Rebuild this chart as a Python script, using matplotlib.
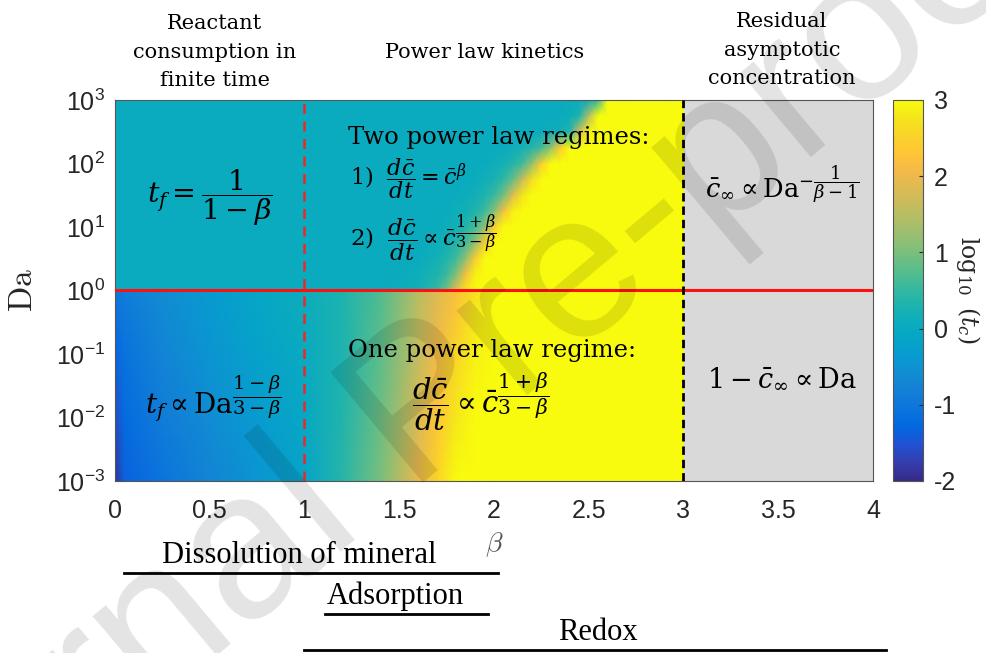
import numpy as np
import matplotlib
matplotlib.use('Agg')
import matplotlib.pyplot as plt
from matplotlib.colors import LinearSegmentedColormap
from matplotlib.ticker import NullLocator
from matplotlib import transforms

plt.rcParams['font.family'] = 'Liberation Sans'
plt.rcParams['mathtext.fontset'] = 'custom'
plt.rcParams['mathtext.rm'] = 'Liberation Sans'
plt.rcParams['mathtext.it'] = 'Liberation Sans:italic'
plt.rcParams['mathtext.bf'] = 'Liberation Sans:bold'

# parula-like colormap (MATLAB default)
parula = LinearSegmentedColormap.from_list('parula', [
    [0.2081, 0.1663, 0.5292], [0.2081, 0.2386, 0.6771], [0.1253, 0.3242, 0.8303],
    [0.0060, 0.4086, 0.8828], [0.0498, 0.4586, 0.8641], [0.0779, 0.5040, 0.8384],
    [0.0641, 0.5570, 0.8240], [0.0265, 0.6137, 0.8135], [0.0228, 0.6535, 0.7768],
    [0.0590, 0.6838, 0.7254], [0.1453, 0.7098, 0.6646], [0.2586, 0.7317, 0.5954],
    [0.3953, 0.7459, 0.5244], [0.5300, 0.7491, 0.4661], [0.6473, 0.7456, 0.4188],
    [0.7525, 0.7384, 0.3768], [0.8507, 0.7299, 0.3360], [0.9450, 0.7261, 0.2886],
    [0.9990, 0.7653, 0.2164], [0.9789, 0.8271, 0.1633], [0.9589, 0.8949, 0.1132],
    [0.9763, 0.9831, 0.0538]])

# log10(t_c) for Da < 1
beta_lo = [0, 0.05, 0.25, 0.5, 0.75, 1.0, 1.2, 1.4, 1.6, 1.7, 1.8, 1.9, 2.0, 3.0]
da_lo = [1e-3, 1e-2, 1e-1, 1.0]
tc_lo = [
    [-1.9, -1.35, -1.05, -0.75, -0.45, -0.15, 0.4, 1.0, 2.0, 2.55, 3.0, 3.0, 3.0, 3.0],
    [-1.6, -1.2, -0.9, -0.6, -0.35, -0.05, 0.35, 0.9, 1.8, 2.3, 2.8, 3.0, 3.0, 3.0],
    [-1.3, -1.1, -0.75, -0.45, -0.2, 0.0, 0.3, 0.8, 1.6, 2.05, 2.55, 2.9, 3.0, 3.0],
    [-1.0, -0.9, -0.6, -0.35, -0.1, 0.1, 0.3, 0.7, 1.5, 1.85, 2.2, 2.7, 3.0, 3.0],
]

# log10(t_c) for Da > 1
beta_hi = [0, 1.0, 1.4, 1.5, 1.6, 1.7, 1.75, 1.8, 1.85, 1.9, 1.95, 2.0, 2.05,
           2.1, 2.15, 2.2, 2.25, 2.3, 2.35, 2.4, 2.45, 2.5, 2.55, 2.6, 3.0]
da_hi = [1.0, 1.78, 3.16, 5.62, 10.0, 17.8, 31.6, 56.2, 100.0, 178.0, 316.0, 562.0, 1000.0]
tc_hi = [
    [0.05] * 3 + [0.1, 0.17, 0.5, 0.96, 1.92, 2.76] + [3.0] * 16,
    [0.05] * 4 + [0.11, 0.32, 0.54, 1.08, 2.16, 2.88] + [3.0] * 15,
    [0.05] * 5 + [0.2, 0.35, 0.6, 1.2, 2.4] + [3.0] * 15,
    [0.05] * 5 + [0.12, 0.2, 0.35, 0.6, 1.2, 2.4] + [3.0] * 14,
    [0.05] * 6 + [0.12, 0.2, 0.35, 0.6, 1.2, 2.4] + [3.0] * 13,
    [0.05] * 7 + [0.11, 0.18, 0.32, 0.54, 1.08, 2.16, 2.88] + [3.0] * 11,
    [0.05] * 8 + [0.09, 0.17, 0.29, 0.5, 0.96, 1.92, 2.76] + [3.0] * 10,
    [0.05] * 9 + [0.07, 0.15, 0.26, 0.45, 0.84, 1.68, 2.64] + [3.0] * 9,
    [0.05] * 11 + [0.12, 0.2, 0.35, 0.6, 1.2, 2.4] + [3.0] * 8,
    [0.05] * 13 + [0.12, 0.2, 0.35, 0.6, 1.2, 2.4] + [3.0] * 6,
    [0.05] * 17 + [0.1, 0.15, 0.4, 1.8, 2.9] + [3.0] * 3,
    [0.05] * 19 + [0.1, 0.3, 1.5] + [3.0] * 3,
    [0.05] * 21 + [0.1, 0.5] + [3.0] * 2,
]

xtick_vals = [0, 0.5, 1, 1.5, 2, 2.5, 3, 3.5, 4]
xtick_labels = ['0', '0.5', '1', '1.5', '2', '2.5', '3', '3.5', '4']
ytick_vals = [1e-3, 1e-2, 1e-1, 1e0, 1e1, 1e2, 1e3]
ytick_labels = [r'$10^{-3}$', r'$10^{-2}$', r'$10^{-1}$', r'$10^{0}$',
                r'$10^{1}$', r'$10^{2}$', r'$10^{3}$']
cbar_ticks = [-2, -1, 0, 1, 2, 3]
cbar_labels = ['-2', '-1', '0', '1', '2', '3']

# processes, the beta range each covers and where its name sits
process_names = ['Dissolution of mineral', 'Adsorption', 'Redox']
process_lo = [0.05, 1.11, 1.0]
process_hi = [2.02, 1.97, 4.07]
process_label_x = [0.97, 1.48, 2.55]

serif = 'DejaVu Serif'
ink = '#262626'

fig = plt.figure(figsize=(9.87, 6.53), dpi=100)
ax = fig.add_axes([0.1165, 0.2634, 0.768, 0.5835])
cax = fig.add_axes([0.9048, 0.2634, 0.0304, 0.5835])

ax.set_facecolor('#d9d9d9')
X, Y = np.meshgrid(beta_lo, da_lo)
mesh = ax.pcolormesh(X, Y, np.array(tc_lo), shading='gouraud', cmap=parula, vmin=-2, vmax=3)
X, Y = np.meshgrid(beta_hi, da_hi)
ax.pcolormesh(X, Y, np.array(tc_hi), shading='gouraud', cmap=parula, vmin=-2, vmax=3)

ax.set_yscale('log')
ax.set_xlim(0, 4)
ax.set_ylim(1e-3, 1e3)
ax.yaxis.set_minor_locator(NullLocator())
ax.set_xticks(xtick_vals)
ax.set_xticklabels(xtick_labels)
ax.set_yticks(ytick_vals)
ax.set_yticklabels(ytick_labels)
ax.tick_params(length=0, labelsize=18, colors=ink)
ax.tick_params(axis='x', pad=13)
ax.tick_params(axis='y', pad=7)
for s in ax.spines.values():
    s.set_edgecolor('#555555')

ax.axhline(1, color='#ff1010', lw=2.2, zorder=3)
ax.axvline(1, color='#e82a2a', lw=1.8, ls=(0, (4, 3)), zorder=3)
ax.axvline(3, color='black', lw=2.0, ls=(0, (3, 1.8)), zorder=3)

ax.set_ylabel(r'$\mathrm{Da}$', fontsize=24, math_fontfamily='cm', color=ink)
ax.yaxis.set_label_coords(-0.1, 0.5)
ax.set_xlabel(r'$\beta$', fontsize=20, math_fontfamily='cm', color='#555555')
ax.xaxis.set_label_coords(0.5, -0.13)

cb = fig.colorbar(mesh, cax=cax)
cb.set_ticks(cbar_ticks)
cb.set_ticklabels(cbar_labels)
cax.tick_params(direction='in', length=3, labelsize=18, pad=8, colors=ink)
cb.outline.set_edgecolor('#555555')
cax.text(2.5, 0.5, r'$\log_{10}\ (t_c)$', rotation=-90, transform=cax.transAxes,
         ha='center', va='center', fontsize=17, math_fontfamily='dejavuserif', color=ink)

# regime annotations
mt = dict(math_fontfamily='dejavuserif', color='black')
ax.text(0.5, 29.5, r'$t_f = \dfrac{1}{1-\beta}$', ha='center', va='center', fontsize=20.5, **mt)
ax.text(0.52, 0.02, r'$t_f \propto \mathrm{Da}^{\dfrac{1-\beta}{3-\beta}}$',
        ha='center', va='center', fontsize=20, **mt)
ax.text(1.23, 261, 'Two power law regimes:', ha='left', va='center', fontsize=17.5, family=serif)
ax.text(1.24, 59, r'$\mathit{1)}\ \ \dfrac{d\bar{c}}{dt} = \bar{c}^{\beta}$',
        ha='left', va='center', fontsize=16, **mt)
ax.text(1.24, 6.7, r'$\mathit{2)}\ \ \dfrac{d\bar{c}}{dt} \propto \bar{c}^{\dfrac{1+\beta}{3-\beta}}$',
        ha='left', va='center', fontsize=16.5, **mt)
ax.text(1.23, 0.115, 'One power law regime:', ha='left', va='center', fontsize=17.5, family=serif)
ax.text(1.93, 0.0175, r'$\dfrac{d\bar{c}}{dt} \propto \bar{c}^{\dfrac{1+\beta}{3-\beta}}$',
        ha='center', va='center', fontsize=21, **mt)
ax.text(3.52, 46, r'$\bar{c}_{\infty} \propto \mathrm{Da}^{-\dfrac{1}{\beta-1}}$',
        ha='center', va='center', fontsize=18.5, **mt)
ax.text(3.52, 0.039, r'$1-\bar{c}_{\infty} \propto \mathrm{Da}$',
        ha='center', va='center', fontsize=19.5, **mt)

# headings above the panel
fig.text(215 / 987, 1 - 52 / 653, 'Reactant\nconsumption in\nfinite time', ha='center',
         va='center', fontsize=15, family=serif, linespacing=1.65, color='black')
fig.text(485 / 987, 1 - 52 / 653, 'Power law kinetics', ha='center', va='center',
         fontsize=15, family=serif, color='black')
fig.text(782 / 987, 1 - 50 / 653, 'Residual\nasymptotic\nconcentration', ha='center',
         va='center', fontsize=15, family=serif, linespacing=1.65, color='black')

# process bars under the beta axis
bt = transforms.blended_transform_factory(ax.transData, fig.transFigure)
bar_y = [1 - 573 / 653, 1 - 614 / 653, 1 - 650 / 653]
for name, lo, hi, lx, y in zip(process_names, process_lo, process_hi, process_label_x, bar_y):
    ax.plot([lo, hi], [y, y], color='black', lw=2, transform=bt, clip_on=False)
    ax.text(lx, y + 0.004, name, transform=bt, ha='center', va='bottom',
            fontsize=22, family='Liberation Serif', color='black')

fig.text(0.43, 0.37, 'Journal Pre-proof', rotation=40, fontsize=150, color='black',
         alpha=0.11, ha='center', va='center', zorder=10)

fig.savefig('out.png', dpi=100)
